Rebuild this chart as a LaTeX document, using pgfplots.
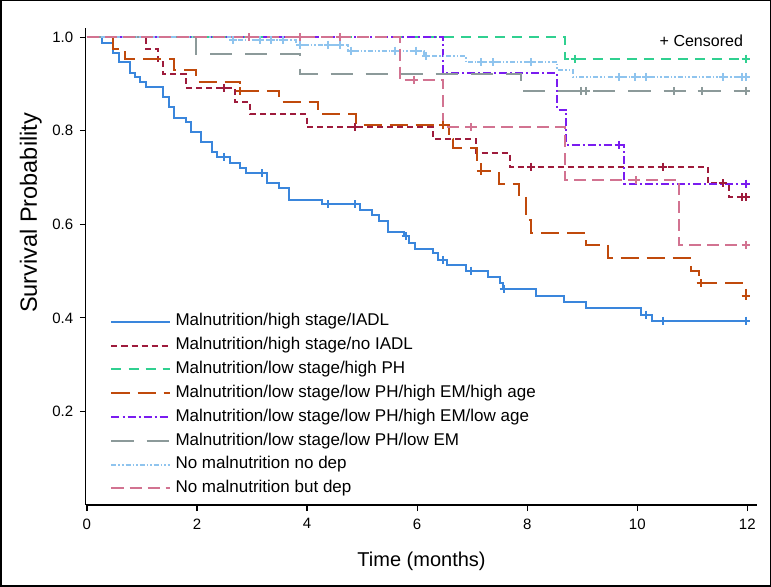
\documentclass[border=0pt]{standalone}
\usepackage{pgfplots}
\pgfplotsset{compat=1.18}
\usepackage{fontspec}
\setmainfont{Liberation Sans}
\definecolor{cBlue}{HTML}{3A86DC}
\definecolor{cRed}{HTML}{9E1B3C}
\definecolor{cGreen}{HTML}{30D090}
\definecolor{cOrange}{HTML}{C04A0C}
\definecolor{cPurple}{HTML}{7A1CF0}
\definecolor{cGray}{HTML}{8C9A9A}
\definecolor{cLBlue}{HTML}{8FC4EE}
\definecolor{cPink}{HTML}{D27391}
\begin{document}
\begin{tikzpicture}
\begin{axis}[name=ax, scale only axis, width=671pt, height=477pt,
  xmin=-0.02, xmax=12.18, ymin=0, ymax=1.02,
  axis x line=bottom, axis y line=left,
  axis line style={-, line width=1.2pt, black},
  xtick={0,2,4,6,8,10,12}, ytick={0.2,0.4,0.6,0.8,1.0},
  tick align=outside, major tick length=6pt,
  tick style={line width=1.2pt, black},
  /pgf/number format/assume math mode=true,
  tick label style={font=\fontsize{15}{17}\selectfont},
  xticklabel style={yshift=-4pt},
  yticklabel style={xshift=-3pt, /pgf/number format/.cd, fixed, fixed zerofill, precision=1},
  xlabel={Time (months)}, ylabel={Survival Probability},
  xlabel style={font=\fontsize{20}{22}\selectfont, at={(axis description cs:0.5,-0.117)}, anchor=center},
  ylabel style={font=\fontsize{23.5}{26}\selectfont, at={(axis description cs:-0.082,0.612)}, anchor=center},
  legend cell align=left,
  legend style={at={(0.032,0.014)}, anchor=south west, draw=none, fill=none,
    font=\fontsize{17}{20}\selectfont, row sep=8.3pt,
    nodes={text height=12pt, text depth=3.5pt, inner sep=0pt, outer sep=0pt},
    column sep=5pt},
  legend image code/.code={\draw[#1] (0pt,0pt) -- (58pt,0pt);},
  every axis plot/.append style={line width=2pt, const plot},
]
% Blue
\addplot[cBlue] coordinates {(0,1) (0.27,0.988) (0.48,0.967) (0.59,0.946) (0.78,0.924) (0.88,0.915) (0.97,0.904) (1.07,0.893) (1.38,0.872) (1.49,0.850) (1.58,0.828) (1.80,0.818) (1.89,0.797) (2.08,0.776) (2.28,0.754) (2.37,0.744) (2.60,0.732) (2.79,0.720) (2.89,0.709) (3.28,0.688) (3.49,0.677) (3.67,0.652) (4.27,0.643) (4.97,0.631) (5.18,0.619) (5.30,0.606) (5.47,0.583) (5.77,0.574) (5.86,0.561) (5.97,0.548) (6.29,0.538) (6.38,0.524) (6.55,0.512) (6.89,0.501) (7.28,0.487) (7.50,0.474) (7.56,0.462) (8.16,0.447) (8.67,0.435) (9.07,0.422) (10.07,0.407) (10.26,0.394) (12,0.394)};
\addlegendentry{Malnutrition/high stage/IADL}
% Dark red
\addplot[cRed, dash pattern=on 6pt off 4pt] coordinates {(0,1) (1.07,0.974) (1.29,0.946) (1.38,0.922) (1.80,0.891) (2.69,0.862) (2.97,0.836) (3.99,0.808) (6.29,0.782) (7.07,0.753) (7.68,0.723) (11.28,0.688) (11.67,0.658) (12,0.658)};
\addlegendentry{Malnutrition/high stage/no IADL}
% Green
\addplot[cGreen, dash pattern=on 10pt off 7pt] coordinates {(0,1) (8.69,0.954) (12,0.954)};
\addlegendentry{Malnutrition/low stage/high PH}
% Orange
\addplot[cOrange, dash pattern=on 18pt off 8pt] coordinates {(0,1) (0.48,0.974) (0.69,0.954) (1.58,0.930) (1.99,0.905) (2.79,0.884) (3.49,0.862) (4.20,0.836) (4.89,0.813) (6.58,0.782) (6.66,0.763) (7.08,0.738) (7.16,0.713) (7.48,0.687) (7.86,0.663) (7.97,0.610) (8.07,0.581) (9.07,0.556) (9.46,0.528) (10.97,0.501) (11.12,0.474) (11.97,0.446) (12,0.446)};
\addlegendentry{Malnutrition/low stage/low PH/high EM/high age}
% Purple
\addplot[cPurple, dash pattern=on 8pt off 3pt on 2pt off 3pt] coordinates {(0,1) (6.47,0.923) (8.55,0.845) (8.71,0.770) (9.76,0.687) (12,0.687)};
\addlegendentry{Malnutrition/low stage/low PH/high EM/low age}
% Gray
\addplot[cGray, dash pattern=on 22pt off 13pt] coordinates {(0,1) (1.99,0.964) (3.88,0.922) (7.88,0.885) (12,0.885)};
\addlegendentry{Malnutrition/low stage/low PH/low EM}
% Light blue
\addplot[cLBlue, dash pattern=on 5pt off 2pt on 1.5pt off 2pt on 1.5pt off 2pt] coordinates {(0,1) (2.62,0.993) (3.80,0.984) (4.74,0.971) (6.13,0.960) (6.89,0.946) (8.55,0.930) (8.83,0.915) (12,0.915)};
\addlegendentry{No malnutrition no dep}
% Pink
\addplot[cPink, dash pattern=on 12pt off 6pt] coordinates {(0,1) (5.68,0.909) (6.47,0.808) (8.69,0.694) (10.76,0.555) (12,0.555)};
\addlegendentry{No malnutrition but dep}
% Censor marks
\pgfplotsset{cens/.style={only marks, mark=+, mark size=4pt, line width=2pt, forget plot}}
\addplot[cens, cBlue] coordinates {(2.49,0.744) (3.19,0.709) (4.38,0.643) (4.88,0.643) (5.79,0.574) (6.47,0.524) (6.97,0.501) (7.57,0.462) (10.16,0.407) (10.47,0.394) (11.97,0.394)};
\addplot[cens, cRed] coordinates {(2.49,0.891) (4.88,0.808) (8.07,0.723) (10.46,0.723) (11.55,0.688) (11.90,0.658) (11.97,0.658)};
\addplot[cens, cGreen] coordinates {(8.86,0.954) (11.97,0.954)};
\addplot[cens, cOrange] coordinates {(2.79,0.884) (6.47,0.813) (7.16,0.713) (11.15,0.474) (11.97,0.446)};
\addplot[cens, cPurple] coordinates {(9.67,0.770) (11.97,0.687)};
\addplot[cens, cGray] coordinates {(8.98,0.885) (9.07,0.885) (10.67,0.885) (11.17,0.885) (11.97,0.885)};
\addplot[cens, cLBlue] coordinates {(2.66,0.993) (3.14,0.993) (3.35,0.993) (3.56,0.993) (3.87,0.984) (4.38,0.984) (4.59,0.984) (4.79,0.971) (5.59,0.971) (5.98,0.971) (6.16,0.960) (7.16,0.946) (7.37,0.946) (8.07,0.946) (9.67,0.915) (9.95,0.915) (10.16,0.915) (11.55,0.915) (11.90,0.915) (11.97,0.915)};
\addplot[cens, cPink] coordinates {(2.95,1) (3.87,1) (4.59,1) (5.95,0.909) (6.98,0.808) (9.97,0.694) (11.97,0.555)};
\node[anchor=east, font=\fontsize{16}{18}\selectfont, inner sep=0pt] at (rel axis cs:0.979,0.973) {+ Censored};
\end{axis}
\draw[line width=1.5pt] ([xshift=-85pt,yshift=-81pt]ax.south west) rectangle ([xshift=13pt,yshift=27pt]ax.north east);
\end{tikzpicture}
\end{document}
